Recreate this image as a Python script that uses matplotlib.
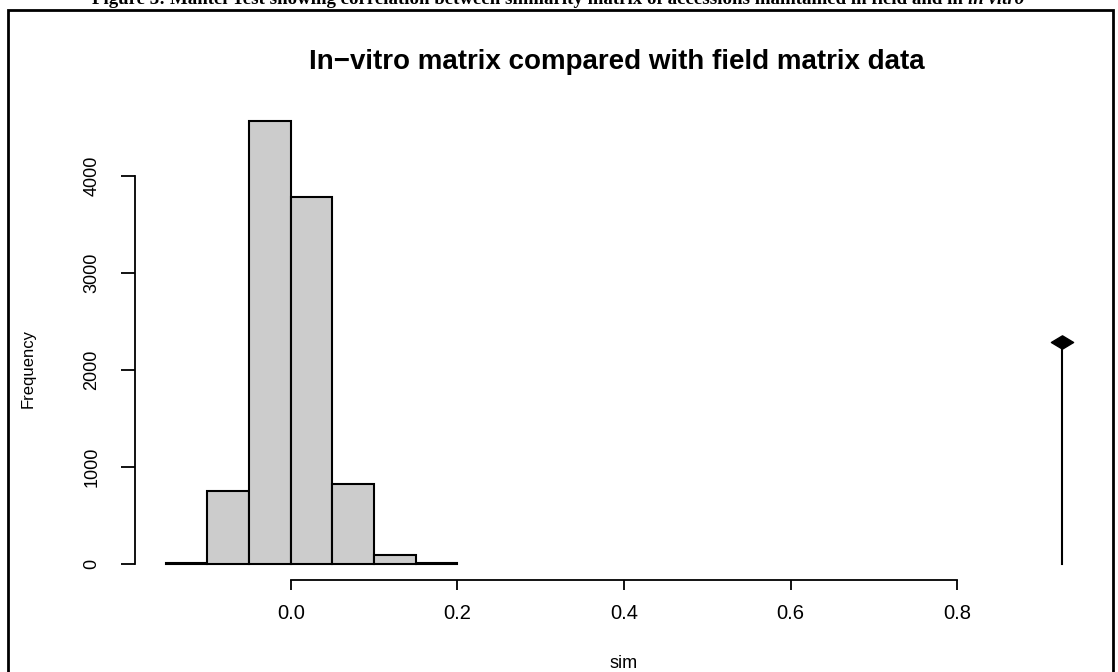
import numpy as np
import matplotlib.pyplot as plt
from matplotlib.patches import Rectangle
from matplotlib.path import Path

# simulated values of the Mantel test (histogram bins) and observed value
bin_edges = [-0.15, -0.10, -0.05, 0.00, 0.05, 0.10, 0.15, 0.20]
counts = [12, 750, 4565, 3780, 825, 88, 8]
obs = 0.926
obs_height = 2285

x_ticks = [0.0, 0.2, 0.4, 0.6, 0.8]
y_ticks = [0, 1000, 2000, 3000, 4000]

plt.rcParams['font.family'] = ['Liberation Sans', 'DejaVu Sans']

fig = plt.figure(figsize=(11.18, 6.72), dpi=100)
W, H = 1118, 672

# border box of the figure (page layout), bottom runs off the picture
fig.patches.append(Rectangle((8 / W, -0.05), (1113 - 8) / W, 1.05 - 10 / H,
                             transform=fig.transFigure, fill=False,
                             lw=2, ec='black'))

# caption, cut off at the top as in the scanned page
cap_y = 1 - 4 / H
renderer = fig.canvas.get_renderer()
t1 = fig.text(92 / W, cap_y,
              'Figure 3: Mantel Test showing correlation between similarity matrix of '
              'accessions maintained in field and in ',
              family='Liberation Serif', fontsize=13.6, fontweight='bold',
              va='baseline', ha='left')
x_end = t1.get_window_extent(renderer).x1
fig.text(x_end / W, cap_y, 'in vitro', family='Liberation Serif', fontsize=13.6,
         fontweight='bold', style='italic', va='baseline', ha='left')

ax = fig.add_axes([135 / W, (H - 580) / H, (1098 - 135) / W, (580 - 103) / H])

widths = np.diff(bin_edges)
ax.bar(bin_edges[:-1], counts, width=widths, align='edge',
       color='#CCCCCC', edgecolor='black', linewidth=1.5)

# observed value: vertical line with diamond head
diamond = Path([(-1, 0), (0, 0.6), (1, 0), (0, -0.6), (-1, 0)],
               [Path.MOVETO, Path.LINETO, Path.LINETO, Path.LINETO, Path.CLOSEPOLY])
ax.plot([obs, obs], [0, obs_height], color='black', lw=1.5)
ax.plot([obs], [obs_height], marker=diamond, markersize=16, color='black')

ax.set_xlim(-0.187, 0.969)
ax.set_ylim(-168, 4750)

for s in ['top', 'right']:
    ax.spines[s].set_visible(False)
ax.spines['left'].set_bounds(0, 4000)
ax.spines['bottom'].set_bounds(0, 0.8)
ax.spines['left'].set_linewidth(1.3)
ax.spines['bottom'].set_linewidth(1.3)

ax.set_xticks(x_ticks)
ax.set_xticklabels(['%.1f' % v for v in x_ticks], fontsize=14.5)
ax.set_yticks(y_ticks)
ax.set_yticklabels([str(v) for v in y_ticks], fontsize=13, rotation=90, va='center')
ax.tick_params(axis='x', length=7, width=1.3, pad=10)
ax.tick_params(axis='y', length=10, width=1.3, pad=15)

ax.set_xlabel('sim', fontsize=13)
ax.xaxis.set_label_coords((624 - 135) / (1098 - 135), -(655 - 580) / (580 - 103))
ax.set_ylabel('Frequency', fontsize=12)
ax.yaxis.set_label_coords(-(135 - 36) / (1098 - 135), (580 - 369) / (580 - 103))

ax.set_title('In\u2212vitro matrix compared with field matrix data',
             fontsize=20, fontweight='bold', y=1 + (103 - 77) / (580 - 103),
             va='baseline')

plt.savefig('out.png', dpi=100)
